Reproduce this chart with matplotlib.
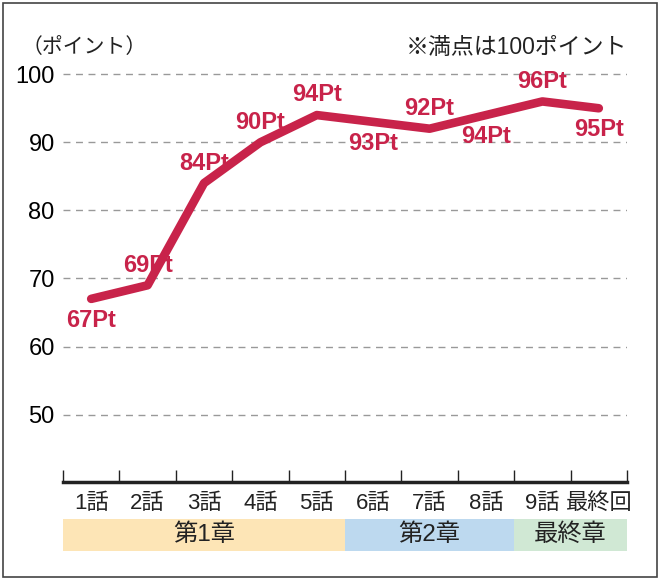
import matplotlib.pyplot as plt
from matplotlib.patches import Rectangle

plt.rcParams['font.family'] = ['Liberation Sans', 'Noto Sans CJK JP']

episodes = ['1話', '2話', '3話', '4話', '5話', '6話', '7話', '8話', '9話', '最終回']
points = [67, 69, 84, 90, 94, 93, 92, 94, 96, 95]
label_pos = ['below', 'above', 'above', 'above', 'above', 'below', 'above', 'below', 'above', 'below']
chapters = ['第1章', '第2章', '最終章']
chapter_start = [0, 5, 8]
chapter_len = [5, 3, 2]
chapter_colors = ['#fde5b6', '#bdd9ef', '#d0e8d4']
yticks = [50, 60, 70, 80, 90, 100]

red = '#c8234a'

fig = plt.figure(figsize=(6.6, 5.8), dpi=100)
ax = fig.add_axes([63/660, 1 - 482/580, 564/660, 435/580])

x = [i + 0.5 for i in range(len(points))]
ax.plot(x, points, color=red, lw=6.2, solid_capstyle='round', solid_joinstyle='round', zorder=3)
for xi, v, pos in zip(x, points, label_pos):
    dy = 14.5 if pos == 'above' else -15.5
    ax.annotate(f'{v}Pt', (xi, v), xytext=(0, dy), textcoords='offset points',
                ha='center', va='center', color=red, fontsize=17, fontweight='bold', zorder=4)

ax.set_xlim(0, 10)
ax.set_ylim(40.1, 104)
for y in yticks:
    ax.axhline(y, color='#999999', lw=1, ls=(0, (5, 4)), zorder=1)
ax.set_yticks(yticks)
ax.set_yticklabels([str(t) for t in yticks], fontsize=17)
ax.tick_params(axis='y', length=0, pad=6)
ax.set_xticks(range(11))
ax.set_xticklabels([])
ax.tick_params(axis='x', direction='in', length=9, width=1, color='#222222')
for s in ['left', 'right', 'top']:
    ax.spines[s].set_visible(False)
ax.spines['bottom'].set_linewidth(2.5)
ax.spines['bottom'].set_color('#222222')

for xi, name in zip(x, episodes):
    ax.text(xi, -0.05, name, transform=ax.get_xaxis_transform(), ha='center', va='center',
            fontsize=16, color='#222222')

cax = fig.add_axes([63/660, 1 - 551/580, 564/660, 32/580])
cax.barh(0, chapter_len, left=chapter_start, height=1, color=chapter_colors)
for s, l, name in zip(chapter_start, chapter_len, chapters):
    cax.text(s + l / 2, 0, name, ha='center', va='center', fontsize=17.5, color='#222222')
cax.set_xlim(0, 10)
cax.set_ylim(-0.5, 0.5)
cax.axis('off')

fig.text(22/660, 1 - 47/580, '（ポイント）', ha='left', va='center', fontsize=15, color='#222222')
fig.text(627/660, 1 - 47/580, '※満点は100ポイント', ha='right', va='center', fontsize=16.5, color='#222222')

fig.patches.append(Rectangle((3/660, 3/580), 654/660, 574/580, transform=fig.transFigure,
                             fill=False, edgecolor='#444444', lw=1.2))

fig.savefig('out.png', dpi=100)
